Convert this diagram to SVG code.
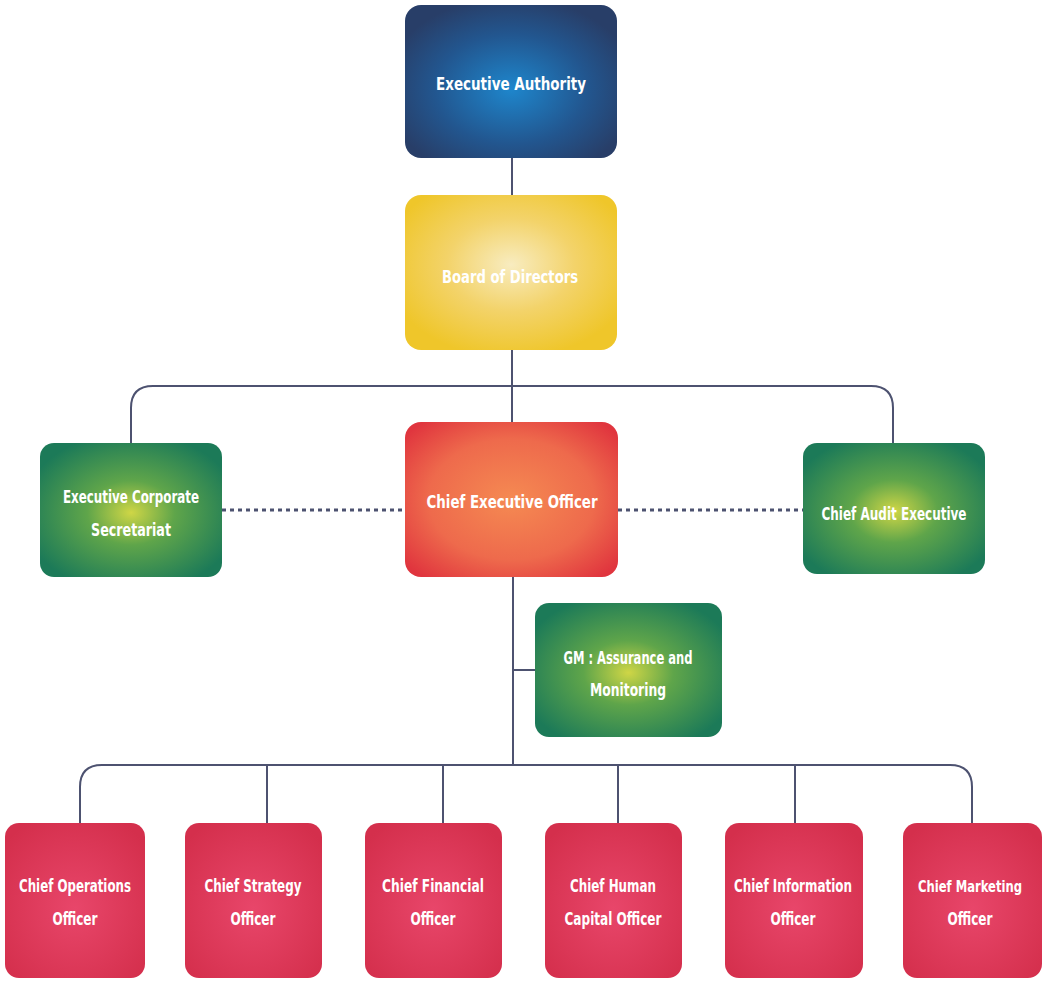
<svg xmlns="http://www.w3.org/2000/svg" width="1043" height="981" viewBox="0 0 1043 981">
<defs>
<radialGradient id="gBlue" cx="50%" cy="55%" r="60%">
<stop offset="0" stop-color="#1e86cc"/><stop offset="0.6" stop-color="#22568f"/><stop offset="1" stop-color="#283e68"/>
</radialGradient>
<radialGradient id="gYellow" cx="50%" cy="45%" r="60%">
<stop offset="0" stop-color="#f8ecc0"/><stop offset="0.5" stop-color="#f3d36a"/><stop offset="1" stop-color="#efc62a"/>
</radialGradient>
<radialGradient id="gRed" cx="50%" cy="50%" r="65%">
<stop offset="0" stop-color="#f58a52"/><stop offset="0.6" stop-color="#ee6a4c"/><stop offset="1" stop-color="#e0353e"/>
</radialGradient>
<radialGradient id="gGreen" cx="50%" cy="52%" r="60%">
<stop offset="0" stop-color="#cfd646"/><stop offset="0.4" stop-color="#5fa54a"/><stop offset="1" stop-color="#1c7a58"/>
</radialGradient>
<radialGradient id="gCrimson" cx="50%" cy="55%" r="65%">
<stop offset="0" stop-color="#e8466a"/><stop offset="1" stop-color="#d42f4c"/>
</radialGradient>
</defs>
<style>
.t{font-family:"DejaVu Sans Condensed","Liberation Sans Narrow","Liberation Sans",sans-serif;font-weight:bold;font-size:17px;fill:#ffffff;text-anchor:middle;font-stretch:condensed}
.s{font-size:15px}
.ln{fill:none;stroke:#4d5270;stroke-width:2}
.dt{fill:none;stroke:#4d5270;stroke-width:3;stroke-dasharray:4 4}
</style>
<rect width="1043" height="981" fill="#ffffff"/>
<g id="connectors">
<line class="ln" x1="512" y1="158" x2="512" y2="195"/>
<line class="ln" x1="512" y1="350" x2="512" y2="422"/>
<path class="ln" d="M131,443 V408 Q131,386 153,386 H871 Q893,386 893,408 V443"/>
<line class="dt" x1="222" y1="510" x2="405" y2="510"/>
<line class="dt" x1="618" y1="510" x2="803" y2="510"/>
<line class="ln" x1="513" y1="577" x2="513" y2="765"/>
<line class="ln" x1="513" y1="670" x2="535" y2="670"/>
<path class="ln" d="M80,823 V787 Q80,765 102,765 H950 Q972,765 972,787 V823"/>
<line class="ln" x1="267" y1="765" x2="267" y2="823"/>
<line class="ln" x1="443" y1="765" x2="443" y2="823"/>
<line class="ln" x1="618" y1="765" x2="618" y2="823"/>
<line class="ln" x1="795" y1="765" x2="795" y2="823"/>
</g>
<g id="executive-authority">
<rect x="405" y="5" width="212" height="153" rx="16" fill="url(#gBlue)"/>
<text class="t" x="511" y="90" textLength="150" lengthAdjust="spacingAndGlyphs">Executive Authority</text>
</g>
<g id="board">
<rect x="405" y="195" width="212" height="155" rx="16" fill="url(#gYellow)"/>
<text class="t" x="510" y="283" textLength="136" lengthAdjust="spacingAndGlyphs">Board of Directors</text>
</g>
<g id="corp-secretariat">
<rect x="40" y="443" width="182" height="134" rx="14" fill="url(#gGreen)"/>
<text class="t" x="131" y="503" textLength="136" lengthAdjust="spacingAndGlyphs">Executive Corporate</text>
<text class="t" x="131" y="536" textLength="80" lengthAdjust="spacingAndGlyphs">Secretariat</text>
</g>
<g id="ceo">
<rect x="405" y="422" width="213" height="155" rx="16" fill="url(#gRed)"/>
<text class="t" x="512" y="508" textLength="171" lengthAdjust="spacingAndGlyphs">Chief Executive Officer</text>
</g>
<g id="audit">
<rect x="803" y="443" width="182" height="131" rx="14" fill="url(#gGreen)"/>
<text class="t" x="894" y="520" textLength="145" lengthAdjust="spacingAndGlyphs">Chief Audit Executive</text>
</g>
<g id="gm-assurance">
<rect x="535" y="603" width="187" height="134" rx="14" fill="url(#gGreen)"/>
<text class="t" x="628" y="664" textLength="129" lengthAdjust="spacingAndGlyphs">GM : Assurance and</text>
<text class="t" x="628" y="696" textLength="76" lengthAdjust="spacingAndGlyphs">Monitoring</text>
</g>
<g id="coo">
<rect x="5" y="823" width="140" height="155" rx="14" fill="url(#gCrimson)"/>
<text class="t" x="75" y="892" textLength="112" lengthAdjust="spacingAndGlyphs">Chief Operations</text>
<text class="t" x="75" y="925" textLength="45" lengthAdjust="spacingAndGlyphs">Officer</text>
</g>
<g id="cso">
<rect x="185" y="823" width="137" height="155" rx="14" fill="url(#gCrimson)"/>
<text class="t" x="253" y="892" textLength="97" lengthAdjust="spacingAndGlyphs">Chief Strategy</text>
<text class="t" x="253" y="925" textLength="45" lengthAdjust="spacingAndGlyphs">Officer</text>
</g>
<g id="cfo">
<rect x="365" y="823" width="137" height="155" rx="14" fill="url(#gCrimson)"/>
<text class="t" x="433" y="892" textLength="102" lengthAdjust="spacingAndGlyphs">Chief Financial</text>
<text class="t" x="433" y="925" textLength="45" lengthAdjust="spacingAndGlyphs">Officer</text>
</g>
<g id="chco">
<rect x="545" y="823" width="137" height="155" rx="14" fill="url(#gCrimson)"/>
<text class="t" x="613" y="892" textLength="86" lengthAdjust="spacingAndGlyphs">Chief Human</text>
<text class="t" x="613" y="925" textLength="97" lengthAdjust="spacingAndGlyphs">Capital Officer</text>
</g>
<g id="cio">
<rect x="725" y="823" width="138" height="155" rx="14" fill="url(#gCrimson)"/>
<text class="t" x="793" y="892" textLength="118" lengthAdjust="spacingAndGlyphs">Chief Information</text>
<text class="t" x="793" y="925" textLength="45" lengthAdjust="spacingAndGlyphs">Officer</text>
</g>
<g id="cmo">
<rect x="903" y="823" width="139" height="155" rx="14" fill="url(#gCrimson)"/>
<text class="t s" x="970" y="892" textLength="104" lengthAdjust="spacingAndGlyphs">Chief Marketing</text>
<text class="t" x="970" y="925" textLength="45" lengthAdjust="spacingAndGlyphs">Officer</text>
</g>
</svg>
